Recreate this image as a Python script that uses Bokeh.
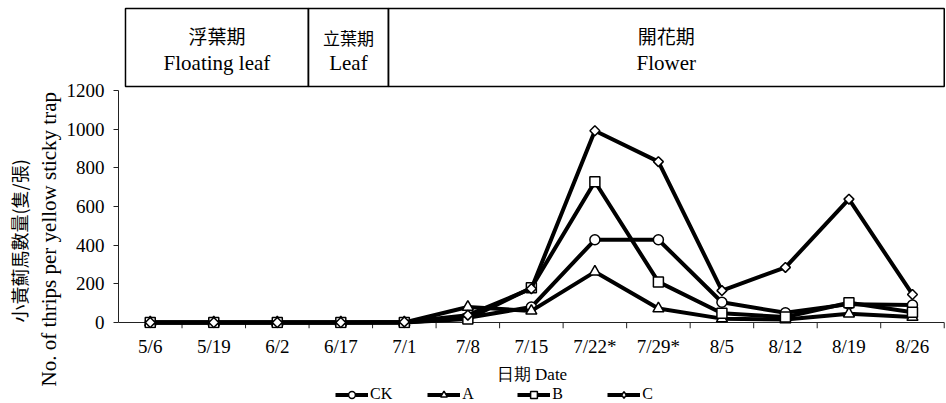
import math
from bokeh.plotting import figure
from bokeh.layouts import column
from bokeh.models import Range1d, FixedTicker, Label, Legend, LegendItem, Title
from bokeh.embed import file_html
from bokeh.resources import INLINE

# ---------------- data ----------------
dates = ["5/6", "5/19", "6/2", "6/17", "7/1", "7/8", "7/15",
         "7/22*", "7/29*", "8/5", "8/12", "8/19", "8/26"]
ck = [0, 0, 0, 0, 0, 25, 80, 428, 428, 105, 50, 95, 90]
a = [0, 0, 0, 0, 0, 80, 60, 262, 72, 20, 15, 45, 28]
b = [0, 0, 0, 0, 0, 18, 180, 728, 210, 48, 28, 102, 53]
c = [0, 0, 0, 0, 3, 38, 175, 992, 832, 165, 285, 638, 145]
series_names = ["CK", "A", "B", "C"]
y_ticks = [0, 200, 400, 600, 800, 1000, 1200]
stage_zh = ["浮葉期", "立葉期", "開花期"]
stage_en = ["Floating leaf", "Leaf", "Flower"]
stage_start = [0.61, 3.49, 4.75]   # in date-index units
stage_end = [3.49, 4.75, 13.5]

# ---------------- layout ----------------
W = 946
H_MAIN = 386
H_LEG = 17
SERIF = "Liberation Serif"
CJK = "Noto Sans CJK TC"
FRAME_BOTTOM = 328

def yv(py):
    # page pixel row -> value (0 at row 322, 1200 at row 90)
    return (322 - py) * 1200 / 232

idx = list(range(1, len(dates) + 1))

p = figure(width=W, height=H_MAIN, output_backend="svg", toolbar_location=None,
           x_range=Range1d(0.5, 13.52), y_range=Range1d(yv(FRAME_BOTTOM), yv(0)),
           min_border_left=118, min_border_right=1, min_border_top=0,
           min_border_bottom=H_MAIN - FRAME_BOTTOM, outline_line_color=None,
           background_fill_color="white", border_fill_color="white")
p.grid.visible = False

# y axis
p.yaxis.ticker = FixedTicker(ticks=y_ticks)
p.yaxis.bounds = (0, 1200)
p.yaxis.minor_tick_line_color = None
p.yaxis.major_tick_in = 0
p.yaxis.major_tick_out = 5
p.yaxis.axis_line_color = "#222222"
p.yaxis.major_tick_line_color = "#222222"
p.yaxis.major_label_text_font = SERIF
p.yaxis.major_label_text_font_size = "19px"
p.yaxis.major_label_text_color = "black"
p.yaxis.major_label_standoff = 9

# y titles (two lines, outer one Chinese); align="left" anchors the text's lower end
p.add_layout(Title(text="No. of thrips per yellow sticky trap", align="left",
                   offset=FRAME_BOTTOM - 386, standoff=6, text_font=SERIF,
                   text_font_size="21px", text_font_style="normal",
                   text_color="black"), "left")
p.add_layout(Title(text="小黃薊馬數量(隻/張)", align="left",
                   offset=FRAME_BOTTOM - 322, standoff=0, text_font=CJK,
                   text_font_size="18px", text_font_style="normal",
                   text_color="black"), "left")

# x axis (labels only)
p.xaxis.ticker = FixedTicker(ticks=idx)
p.xaxis.major_label_overrides = {i: d for i, d in zip(idx, dates)}
p.xaxis.axis_line_color = None
p.xaxis.major_tick_line_color = None
p.xaxis.minor_tick_line_color = None
p.xaxis.major_tick_out = 0
p.xaxis.major_tick_in = 0
p.xaxis.major_label_standoff = 7
p.xaxis.major_label_text_font = SERIF
p.xaxis.major_label_text_font_size = "19px"
p.xaxis.major_label_text_color = "black"
p.xaxis.axis_label = "日期 Date"
p.xaxis.axis_label_text_font = SERIF
p.xaxis.axis_label_text_font_size = "17px"
p.xaxis.axis_label_text_font_style = "normal"
p.xaxis.axis_label_text_color = "black"
p.xaxis.axis_label_standoff = 5

# zero line and boundary tick marks
bounds_x = [i + 0.5 for i in idx]
p.segment(x0=[0.5], y0=[0], x1=[13.5], y1=[0], line_color="#222222", line_width=1)
p.segment(x0=bounds_x, y0=[0] * len(bounds_x), x1=bounds_x,
          y1=[yv(FRAME_BOTTOM)] * len(bounds_x), line_color="#222222", line_width=1)

# header boxes
p.quad(left=stage_start, right=stage_end, bottom=yv(86), top=yv(8),
       fill_color=None, line_color="black", line_width=1.5)
for s0, s1, zh, en in zip(stage_start, stage_end, stage_zh, stage_en):
    cx = (s0 + s1) / 2
    small = (s1 - s0) < 2
    p.add_layout(Label(x=cx, y=yv(37 if small else 35), text=zh, text_font=CJK,
                       text_font_size="17px" if small else "19px", text_color="black",
                       text_align="center", text_baseline="middle"))
    p.add_layout(Label(x=cx, y=yv(62), text=en, text_font=SERIF,
                       text_font_size="21px", text_color="black",
                       text_align="center", text_baseline="middle"))

# series
markers = [("circle", 10, 0), ("triangle", 11, 0), ("square", 10, 0), ("square", 7, math.pi / 4)]
for name, vals, (mk, sz, ang) in zip(series_names, [ck, a, b, c], markers):
    p.line(idx, vals, line_color="black", line_width=4)
    p.scatter(idx, vals, marker=mk, size=sz, angle=ang, fill_color="white",
              line_color="black", line_width=1.5)

# legend strip (separate small figure below the chart)
lf = figure(width=W, height=H_LEG, output_backend="svg", toolbar_location=None,
            x_range=Range1d(0, 1), y_range=Range1d(0, 1),
            x_axis_location=None, y_axis_location=None,
            min_border=0, outline_line_color=None,
            background_fill_color="white", border_fill_color="white")
lf.grid.visible = False
legend_markers = ["circle", "triangle", "square", "diamond"]
items = []
for name, mk in zip(series_names, legend_markers):
    lr = lf.line([5, 6], [5, 6], line_color="black", line_width=4)
    sr = lf.scatter([5], [5], marker=mk, fill_color="white",
                    line_color="black", line_width=1.5)
    items.append(LegendItem(label=name, renderers=[lr, sr]))
legend = Legend(items=items, orientation="horizontal", location=(217, 0),
                glyph_width=33, glyph_height=17, label_standoff=2, spacing=35,
                padding=0, margin=0, border_line_color=None, background_fill_alpha=0,
                label_text_font=SERIF, label_text_font_size="16px",
                label_text_color="black")
lf.add_layout(legend, "center")

layout = column(p, lf, spacing=0)
open("out.html", "w").write(file_html(layout, INLINE))
